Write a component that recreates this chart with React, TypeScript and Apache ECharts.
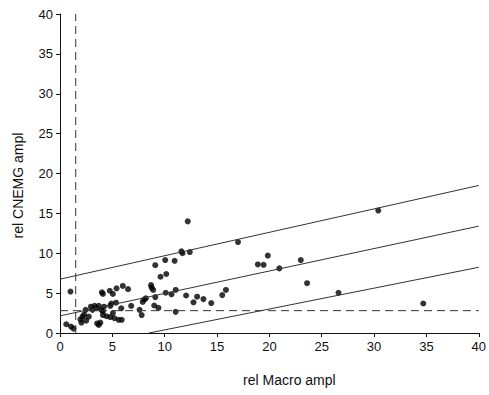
import React, { useEffect, useRef } from "react";
import * as echarts from "echarts";

const points: number[][] = [
  [0.6, 1.1], [1.05, 0.8], [1.3, 0.55], [1.0, 5.2],
  [1.95, 1.7], [2.15, 2.05], [2.3, 2.3], [2.45, 2.9], [2.05, 1.3], [2.5, 1.55],
  [2.75, 2.05], [2.95, 3.3], [3.1, 2.9], [3.3, 3.4], [3.5, 3.1], [3.7, 3.4],
  [3.55, 1.2], [3.7, 1.0], [3.85, 1.3], [3.95, 2.9], [4.1, 2.7], [4.0, 5.1],
  [4.1, 4.9], [4.2, 3.3], [4.1, 2.25], [4.45, 2.1], [4.8, 3.4], [4.9, 3.7],
  [4.75, 5.3], [5.05, 4.9], [5.4, 5.6], [5.35, 3.8], [4.8, 2.0], [5.2, 1.85],
  [5.6, 1.65], [5.9, 1.65], [5.05, 2.5], [5.85, 3.1], [6.0, 5.9], [6.5, 5.5],
  [6.8, 3.4], [7.6, 2.9], [7.8, 2.25], [7.9, 3.9], [8.05, 4.2], [8.2, 4.35],
  [8.7, 6.0], [8.75, 5.7], [8.9, 5.4], [9.1, 8.5], [9.1, 4.5], [9.0, 3.45],
  [9.4, 3.15], [9.6, 7.05], [10.05, 9.15], [10.1, 5.05], [10.15, 7.4],
  [10.65, 4.85], [10.95, 9.05], [11.05, 5.4], [11.05, 2.65], [11.6, 10.25],
  [11.7, 10.0], [12.2, 14.0], [12.4, 10.15], [12.05, 4.7], [12.75, 3.85],
  [13.1, 4.55], [13.7, 4.25], [14.45, 3.75], [15.5, 4.75], [15.85, 5.4],
  [17.0, 11.4], [18.9, 8.6], [19.45, 8.55], [19.85, 9.7], [20.95, 8.1],
  [23.0, 9.15], [23.6, 6.25], [26.6, 5.05], [30.4, 15.35], [34.7, 3.7],
];

const upperLine: number[][] = [[0, 6.75], [40, 18.5]];
const middleLine: number[][] = [[0, 2.15], [40, 13.4]];
const lowerLine: number[][] = [[8.5, 0], [40, 8.24]];
const cutoffX: number[][] = [[1.5, 0], [1.5, 40]];
const cutoffY: number[][] = [[0, 2.8], [40, 2.8]];

const xName = "rel Macro ampl";
const yName = "rel CNEMG ampl";

export default function App() {
  const ref = useRef<HTMLDivElement>(null);
  useEffect(() => {
    if (!ref.current) return;
    const chart = echarts.init(ref.current, null, { renderer: "svg" });
    const font = "Liberation Sans, Arial, sans-serif";
    const axisCommon = {
      min: 0,
      max: 40,
      interval: 5,
      splitLine: { show: false },
      axisLine: { show: true, lineStyle: { color: "#111", width: 1 } },
      axisTick: { show: true, length: 4, lineStyle: { color: "#111" } },
      axisLabel: { color: "#111", fontSize: 13, fontFamily: font },
    };
    const solid = { color: "#333", width: 1 };
    const dashed = { color: "#333", width: 1, type: [8, 5] as any };
    chart.setOption({
      animation: false,
      backgroundColor: "#fff",
      grid: { left: 60, right: 6, top: 14, bottom: 62, containLabel: false },
      xAxis: {
        type: "value",
        ...axisCommon,
        axisLabel: { ...axisCommon.axisLabel, margin: 7 },
        name: xName,
        nameLocation: "middle",
        nameGap: 40,
        nameTextStyle: { color: "#111", fontSize: 14, fontFamily: font, padding: [0, 0, 0, 40] },
      },
      yAxis: {
        type: "value",
        ...axisCommon,
        axisLabel: { ...axisCommon.axisLabel, margin: 7 },
        name: yName,
        nameLocation: "middle",
        nameGap: 35,
        nameTextStyle: { color: "#111", fontSize: 14, fontFamily: font, padding: [0, 24, 0, 0] },
      },
      series: [
        { type: "line", data: upperLine, symbol: "none", lineStyle: solid, silent: true },
        { type: "line", data: middleLine, symbol: "none", lineStyle: solid, silent: true },
        { type: "line", data: lowerLine, symbol: "none", lineStyle: solid, silent: true },
        { type: "line", data: cutoffX, symbol: "none", lineStyle: dashed, silent: true },
        { type: "line", data: cutoffY, symbol: "none", lineStyle: dashed, silent: true },
        {
          type: "scatter",
          data: points,
          symbol: "circle",
          symbolSize: 6,
          itemStyle: { color: "#000" },
        },
      ],
    });
    return () => chart.dispose();
  }, []);
  return <div ref={ref} style={{ width: 489, height: 395, position: "absolute", left: 0, top: 0 }} />;
}
